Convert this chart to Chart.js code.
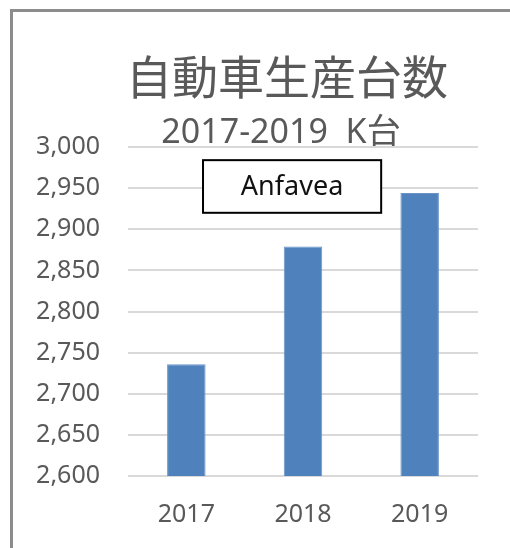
<!DOCTYPE html>
<html>
<head>
<meta charset="utf-8">
<script src="https://cdn.jsdelivr.net/npm/chart.js@4"></script>
<style>
  html, body { margin: 0; padding: 0; background: #fff; }
  #wrap { position: relative; width: 510px; height: 548px; }
  #frame { position: absolute; left: 10px; top: 9px; right: -10px; bottom: -10px;
           border-top: 3px solid #8c8c8c; border-left: 3px solid #8c8c8c; }
  canvas { position: absolute; left: 0; top: 0; }
</style>
</head>
<body>
<div id="wrap">
  <canvas id="chart1" width="510" height="548"></canvas>
  <div id="frame"></div>
</div>
<script>
const years = ['2017', '2018', '2019'];
const production = [2736, 2879, 2944];   // K台
const yMin = 2600, yMax = 3000, yStep = 50;

const titleText = '自動車生産台数';
const subtitleText = '2017-2019  K台';
const noteText = 'Anfavea';

// text box placed in chart value space (x in category index, y in K台)
const noteBox = { x0: 0.143, x1: 1.67, y0: 2984, y1: 2920 };

const gray = '#595959';

// Excel centres the titles a bit left of the plot, so draw them by hand
const titlesPlugin = {
    id: 'titles',
    afterDraw(chart) {
        const ctx = chart.ctx;
        ctx.save();
        ctx.fillStyle = gray;
        ctx.textAlign = 'center';
        ctx.textBaseline = 'middle';
        ctx.font = '46px "Noto Sans CJK JP", sans-serif';
        ctx.fillText(titleText, 287, 77);
        ctx.font = '34px "Noto Sans", "Noto Sans CJK JP", sans-serif';
        ctx.fillText(subtitleText, 281, 133);
        ctx.restore();
    }
};

const notePlugin = {
    id: 'noteBox',
    afterDatasetsDraw(chart) {
        const ctx = chart.ctx;
        const xs = chart.scales.x, ys = chart.scales.y;
        const l = xs.getPixelForValue(noteBox.x0), r = xs.getPixelForValue(noteBox.x1);
        const t = ys.getPixelForValue(noteBox.y0), b = ys.getPixelForValue(noteBox.y1);
        ctx.save();
        ctx.fillStyle = '#fff';
        ctx.fillRect(l, t, r - l, b - t);
        ctx.strokeStyle = '#000';
        ctx.lineWidth = 2;
        ctx.strokeRect(l, t, r - l, b - t);
        ctx.fillStyle = '#111';
        ctx.font = '27px "Noto Sans", sans-serif';
        ctx.textAlign = 'center';
        ctx.textBaseline = 'middle';
        ctx.fillText(noteText, (l + r) / 2, (t + b) / 2 + 1);
        ctx.restore();
    }
};

const ctx1 = document.getElementById('chart1').getContext('2d');

new Chart(ctx1, {
    type: 'bar',
    data: {
        labels: years,
        datasets: [{
            data: production,
            backgroundColor: '#4f81bd',
            borderColor: '#6a94c8',
            borderWidth: 1,
            barPercentage: 0.33,
            categoryPercentage: 1.0,
        }]
    },
    options: {
        responsive: false,
        animation: false,
        layout: { padding: { top: 147, left: 0, right: 32, bottom: 0 } },
        scales: {
            x: {
                grid: { display: false, drawTicks: false },
                border: { display: false },
                ticks: {
                    color: gray,
                    padding: 24,
                    font: { family: '"Noto Sans", sans-serif', size: 25 }
                },
                afterFit: s => { s.height = 72; }
            },
            y: {
                min: yMin,
                max: yMax,
                grid: { color: '#d9d9d9', lineWidth: 2, drawTicks: false },
                border: { display: false },
                ticks: {
                    stepSize: yStep,
                    color: gray,
                    padding: 28,
                    font: { family: '"Noto Sans", sans-serif', size: 25 },
                    callback: v => v.toLocaleString('en-US')
                },
                afterFit: s => { s.width = 128; }
            }
        },
        plugins: {
            legend: { display: false },
            tooltip: { enabled: false },
            title: { display: false }
        }
    },
    plugins: [titlesPlugin, notePlugin]
});
</script>
</body>
</html>
